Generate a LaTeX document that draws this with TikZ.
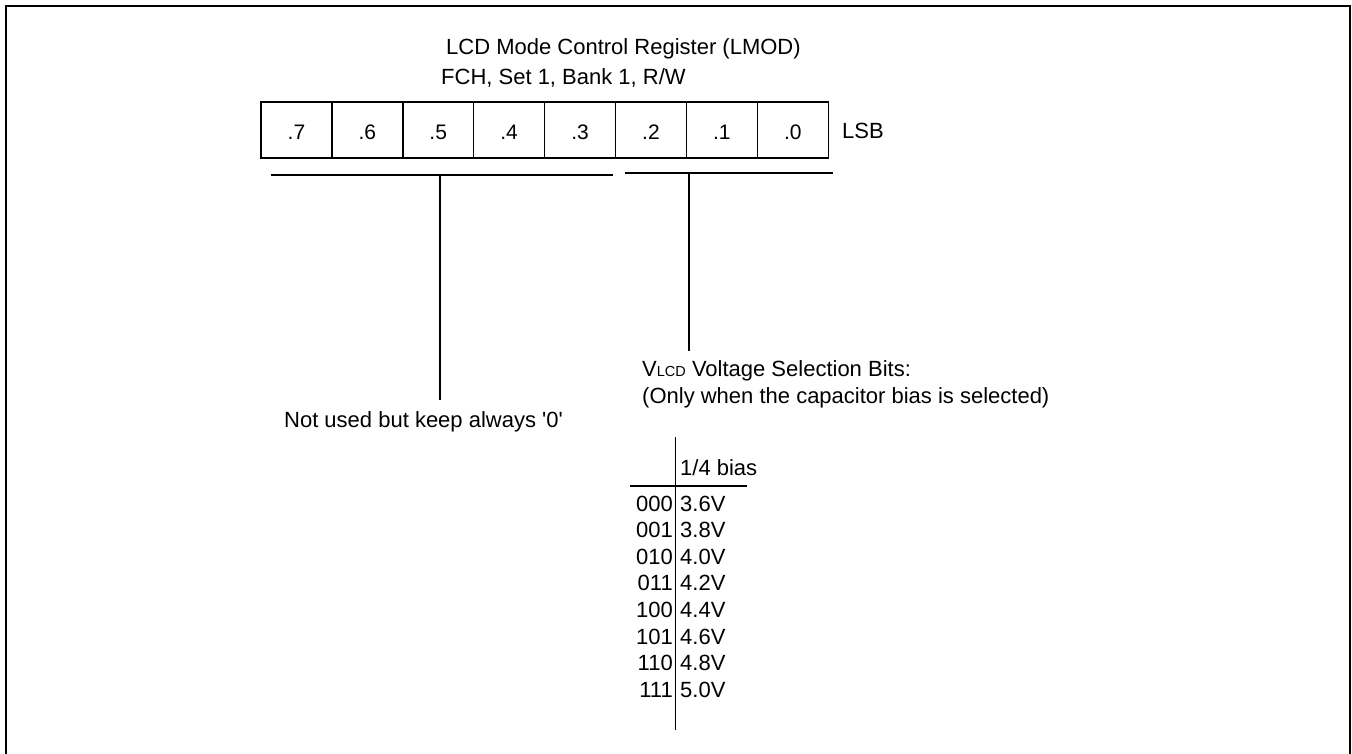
\documentclass[tikz,border=0pt]{standalone}
\usepackage{fontspec}
\setmainfont{Liberation Sans}
\begin{document}
\begin{tikzpicture}[x=1pt,y=-1pt,
  txt/.style={inner sep=0pt,anchor=base,font=\fontsize{22}{26}\selectfont},
  cell/.style={draw,line width=1.4pt,minimum width=70.9pt,minimum height=56pt,inner sep=0pt,
    text height=18pt,text depth=0pt,font=\fontsize{21}{25}\selectfont},
  ln/.style={line width=1.5pt}]
\useasboundingbox (0,0) rectangle (1352,753);
\draw[line width=2.2pt] (6,760) -- (6,6) -- (1350,6) -- (1350,760);
% title
\node[txt,anchor=base west] (t1) at (446,54) {LCD Mode Control Register (LMOD)};
\node[txt,anchor=base west] (t2) at (441,84) {FCH, Set 1, Bank 1, R/W};
% register cells
\foreach \i/\l in {0/.7,1/.6,2/.5,3/.4,4/.3,5/.2,6/.1,7/.0}{
  \node[cell] (c\i) at ({261+70.9*\i+35.45},130) {\l};
}
\node[txt,anchor=base west] (lsb) at (842,138.5) {LSB};
% brackets
\coordinate (bl1) at (271,175);
\coordinate (bl2) at (613,175);
\coordinate (blm) at (440,175);
\coordinate (blb) at (440,400);
\draw[ln] (bl1) -- (bl2);
\draw[ln] (blm) -- (blb);
\coordinate (br1) at (625,173);
\coordinate (br2) at (833,173);
\coordinate (brm) at (689,173);
\coordinate (brb) at (689,351);
\draw[ln] (br1) -- (br2);
\draw[ln] (brm) -- (brb);
% labels
\node[txt] (nu) at (423.5,427) {Not used but keep always \textquotesingle 0\textquotesingle};
\node[txt,anchor=base west] (v1) at (642,376) {V{\fontsize{14.5}{17}\selectfont LCD} Voltage Selection Bits:};
\node[txt,anchor=base west] (v2) at (642,403.5) {(Only when the capacitor bias is selected)};
% table
\coordinate (tv1) at (675.5,437);
\coordinate (tv2) at (675.5,730);
\coordinate (th1) at (630,486);
\coordinate (th2) at (747,486);
\draw[ln] (tv1) -- (tv2);
\draw[ln] (th1) -- (th2);
\node[txt,anchor=base west] (hb) at (680,475) {1/4 bias};
\foreach \k/\c/\v in {0/000/3.6V,1/001/3.8V,2/010/4.0V,3/011/4.2V,4/100/4.4V,5/101/4.6V,6/110/4.8V,7/111/5.0V}{
  \node[txt,anchor=base east] (code\k) at (673,{511+26.6*\k}) {\c};
  \node[txt,anchor=base west] (val\k) at (680,{511+26.6*\k}) {\v};
}
\end{tikzpicture}
\end{document}
